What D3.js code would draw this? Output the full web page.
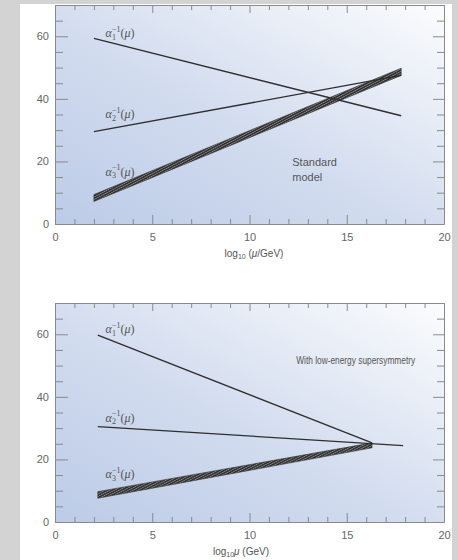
<!DOCTYPE html>
<html lang="en">
<head>
<meta charset="utf-8">
<title>Gauge coupling unification</title>
<script src="https://cdn.jsdelivr.net/npm/d3@7"></script>
<style>
  body { margin: 0; background: #d3d3d3; }
  svg { display: block; }
  .tick text { font-family: "Liberation Sans", Arial, sans-serif; font-size: 11px; fill: #666; }
  .tick line, .domain { stroke: #8a8a8a; }
</style>
</head>
<body>
<script>
// --- data ---
var xTicks = [0, 5, 10, 15, 20];
var yTicks = [0, 20, 40, 60];

// standard model panel
var smX = [2, 17.8];
var smAlpha1 = [59.3, 34.6];
var smAlpha2 = [29.5, 47.5];
var smAlpha3Low = [7.2, 47.5];
var smAlpha3High = [9.4, 49.8];

// low-energy supersymmetry panel
var susyX1 = [2.2, 16.3];
var susyAlpha1 = [59.7, 25.3];
var susyX2 = [2.2, 17.9];
var susyAlpha2 = [30.5, 24.4];
var susyX3 = [2.2, 16.3];
var susyAlpha3Low = [7.6, 23.7];
var susyAlpha3High = [9.7, 25.3];

var W = 458, H = 560;
var svg = d3.select("body").append("svg").attr("width", W).attr("height", H);

var defs = svg.append("defs");
var grad = defs.append("linearGradient").attr("id", "bg")
    .attr("x1", "0").attr("y1", "1").attr("x2", "1").attr("y2", "0");
grad.append("stop").attr("offset", "0").attr("stop-color", "#bccbe7");
grad.append("stop").attr("offset", "0.45").attr("stop-color", "#d2dcef");
grad.append("stop").attr("offset", "1").attr("stop-color", "#fbfcfd");

var hatch = defs.append("pattern").attr("id", "hatch")
    .attr("patternUnits", "userSpaceOnUse").attr("width", 2.2).attr("height", 2.2)
    .attr("patternTransform", "rotate(62)");
hatch.append("rect").attr("width", 2.2).attr("height", 2.2).attr("fill", "#2f2f2f");
hatch.append("rect").attr("width", 0.7).attr("height", 2.2).attr("fill", "#8c8c8c");

// white paper
svg.append("rect").attr("x", 20).attr("y", 4).attr("width", 432).attr("height", H - 4).attr("fill", "#fff");

function alphaLabel(g, x, y, idx) {
  var t = g.append("text").attr("x", x).attr("y", y)
      .attr("font-family", "'Liberation Serif', 'DejaVu Serif', serif")
      .attr("font-size", 12).attr("fill", "#555");
  t.append("tspan").attr("font-style", "italic").text("α");
  t.append("tspan").attr("font-size", 8).attr("dy", 2.5).text(idx);
  t.append("tspan").attr("font-size", 8).attr("dx", -4).attr("dy", -8).text("−1");
  t.append("tspan").attr("dy", 5.5).text("(");
  t.append("tspan").attr("font-style", "italic").text("μ");
  t.append("tspan").text(")");
}

function drawPanel(top, bottom, opts) {
  var x = d3.scaleLinear().domain([0, 20]).range([55, 444]);
  var y = d3.scaleLinear().domain([0, 70]).range([bottom, top]);
  var g = svg.append("g");

  g.append("rect").attr("x", x(0)).attr("y", y(70))
      .attr("width", x(20) - x(0)).attr("height", y(0) - y(70))
      .attr("fill", "url(#bg)");

  var minorX = d3.range(0, 21);
  var minorY = d3.range(0, 71, 5);
  function fmtX(d) { return xTicks.indexOf(d) >= 0 ? d : ""; }
  function fmtY(d) { return yTicks.indexOf(d) >= 0 ? d : ""; }

  var ax = g.append("g").attr("transform", "translate(0," + y(0) + ")")
      .call(d3.axisBottom(x).tickValues(minorX).tickSize(-5).tickSizeOuter(0).tickPadding(9).tickFormat(fmtX));
  ax.selectAll(".tick line").filter(function(d) { return d % 5 === 0; }).attr("y2", -9);

  var at = g.append("g").attr("transform", "translate(0," + y(70) + ")")
      .call(d3.axisTop(x).tickValues(minorX).tickSize(-5).tickSizeOuter(0).tickFormat(""));
  at.selectAll(".tick line").filter(function(d) { return d % 5 === 0; }).attr("y2", 8);

  var ay = g.append("g").attr("transform", "translate(" + x(0) + ",0)")
      .call(d3.axisLeft(y).tickValues(minorY).tickSize(-8).tickSizeOuter(0).tickPadding(6).tickFormat(fmtY));
  ay.selectAll(".tick line").filter(function(d) { return d % 20 === 0; }).attr("x2", 13);

  var ar = g.append("g").attr("transform", "translate(" + x(20) + ",0)")
      .call(d3.axisRight(y).tickValues(minorY).tickSize(-7).tickSizeOuter(0).tickFormat(""));
  ar.selectAll(".tick line").filter(function(d) { return d % 20 === 0; }).attr("x2", -11);

  // alpha3 band
  var band = opts.bandX.map(function(d, i) { return { x: d, lo: opts.bandLo[i], hi: opts.bandHi[i] }; });
  g.append("path").datum(band)
      .attr("d", d3.area().x(function(d) { return x(d.x); })
          .y0(function(d) { return y(d.lo); }).y1(function(d) { return y(d.hi); }))
      .attr("fill", "url(#hatch)").attr("stroke", "#333").attr("stroke-width", 0.6);

  var line = d3.line().x(function(d) { return x(d[0]); }).y(function(d) { return y(d[1]); });
  opts.lines.forEach(function(l) {
    g.append("path").datum(d3.zip(l.x, l.v))
        .attr("d", line).attr("fill", "none")
        .attr("stroke", "#2e2e2e").attr("stroke-width", 1.3);
  });

  opts.labels.forEach(function(l) { alphaLabel(g, x(l[0]), y(l[1]), l[2]); });

  var note = g.append("text").attr("font-family", "'Liberation Sans', Arial, sans-serif")
      .attr("font-size", opts.noteSize).attr("fill", "#555");
  opts.note.forEach(function(s, i) {
    var ts = note.append("tspan").attr("x", x(opts.notePos[0])).attr("y", y(opts.notePos[1]) + i * 15).text(s);
    if (opts.noteLength) ts.attr("textLength", opts.noteLength).attr("lengthAdjust", "spacingAndGlyphs");
  });

  var title = g.append("text").attr("x", opts.titleX).attr("y", y(0) + 33)
      .attr("text-anchor", "middle")
      .attr("font-family", "'Liberation Sans', Arial, sans-serif")
      .attr("font-size", 10).attr("fill", "#555");
  opts.title(title);
}

drawPanel(5, 224, {
  bandX: smX, bandLo: smAlpha3Low, bandHi: smAlpha3High,
  lines: [{ x: smX, v: smAlpha1 }, { x: smX, v: smAlpha2 }],
  labels: [[2.6, 59.7, "1"], [2.6, 33.8, "2"], [2.6, 15.5, "3"]],
  note: ["Standard", "model"], notePos: [12.2, 18.5], noteSize: 11,
  titleX: 254,
  title: function(t) {
    t.append("tspan").text("log");
    t.append("tspan").attr("font-size", 7).attr("dy", 2).text("10");
    t.append("tspan").attr("dy", -2).text(" (");
    t.append("tspan").attr("font-style", "italic").text("μ");
    t.append("tspan").text("/GeV)");
  }
});

drawPanel(303, 522, {
  bandX: susyX3, bandLo: susyAlpha3Low, bandHi: susyAlpha3High,
  lines: [{ x: susyX1, v: susyAlpha1 }, { x: susyX2, v: susyAlpha2 }],
  labels: [[2.6, 60.3, "1"], [2.6, 32, "2"], [2.6, 14, "3"]],
  note: ["With low-energy supersymmetry"], notePos: [12.4, 50.5], noteSize: 10, noteLength: 119,
  titleX: 241,
  title: function(t) {
    t.append("tspan").text("log");
    t.append("tspan").attr("font-size", 7).attr("dy", 2).text("10");
    t.append("tspan").attr("dy", -2).attr("font-style", "italic").text("μ");
    t.append("tspan").text(" (GeV)");
  }
});

// grey frame strips over the page edges
svg.append("rect").attr("x", 0).attr("y", 0).attr("width", 20).attr("height", H).attr("fill", "#d3d3d3");
svg.append("rect").attr("x", 0).attr("y", 0).attr("width", W).attr("height", 4).attr("fill", "#d3d3d3");
svg.append("rect").attr("x", 452).attr("y", 0).attr("width", 6).attr("height", H).attr("fill", "#d3d3d3");
</script>
</body>
</html>
